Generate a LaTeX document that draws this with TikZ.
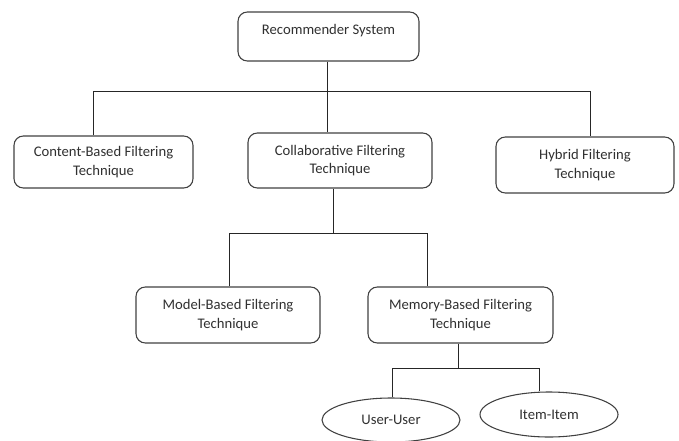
\documentclass[tikz,border=0pt]{standalone}
\usepackage{fontspec}
\setmainfont{Carlito}
\usetikzlibrary{shapes.geometric}
\definecolor{edge}{HTML}{404040}
\definecolor{ink}{HTML}{303030}
\begin{document}
\begin{tikzpicture}[x=0.75pt,y=-0.75pt,
  box/.style={draw=edge, line width=0.8pt, rounded corners=7pt, align=center,
    font=\fontsize{11}{14}\selectfont, text=ink, inner sep=0pt},
  oval/.style={ellipse, draw=edge, line width=0.8pt, inner sep=0pt,
    font=\fontsize{11}{14}\selectfont, text=ink},
  txt/.style={font=\fontsize{11}{14}\selectfont, text=ink, inner sep=0pt},
  link/.style={draw=black!85, line width=0.65pt}]
\useasboundingbox (0,0) rectangle (679,440);

% boxes
\node[box, minimum width={181*0.75pt}, minimum height={49*0.75pt},
  label={[txt, yshift={5.5*0.75pt}]center:Recommender System}] (root) at (328.5,36.5) {};
\node[box, minimum width={179*0.75pt}, minimum height={52*0.75pt}] (content) at (103.5,162)
  {Content-Based Filtering\\Technique};
\node[box, minimum width={184*0.75pt}, minimum height={55*0.75pt}] (collab) at (340,160.5)
  {Collaborative Filtering\\Technique};
\node[box, minimum width={178*0.75pt}, minimum height={56*0.75pt}] (hybrid) at (585,165)
  {Hybrid Filtering\\Technique};
\node[box, minimum width={184*0.75pt}, minimum height={56*0.75pt}] (model) at (228,315)
  {Model-Based Filtering\\Technique};
\node[box, minimum width={185*0.75pt}, minimum height={56*0.75pt}] (memory) at (460.5,315)
  {Memory-Based Filtering\\Technique};
\node[oval, minimum width={138*0.75pt}, minimum height={44*0.75pt}] (uu) at (391,420)
  {User-User};
\node[oval, minimum width={138*0.75pt}, minimum height={45*0.75pt}] (ii) at (549,414.5)
  {Item-Item};

% junction coordinates
\coordinate (busL) at (93,91);
\coordinate (busM) at (327,91);
\coordinate (busR) at (590,91);
\coordinate (c2) at (333,233);
\coordinate (c2L) at (229,233);
\coordinate (c2R) at (427,233);
\coordinate (m2) at (458,368);
\coordinate (m2L) at (392,368);
\coordinate (m2R) at (539,368);

% connectors
\draw[link] (root.south -| busM) -- (collab.north -| busM);
\draw[link] (content.north -| busL) |- (busR) -- (hybrid.north -| busR);
\draw[link] (collab.south -| c2) -- (c2);
\draw[link] (model.north -| c2L) |- (c2R) -- (memory.north -| c2R);
\draw[link] (memory.south -| m2) -- (m2);
\draw[link] (uu.north -| m2L) |- (m2R) -- (ii.north -| m2R);
\end{tikzpicture}
\end{document}
